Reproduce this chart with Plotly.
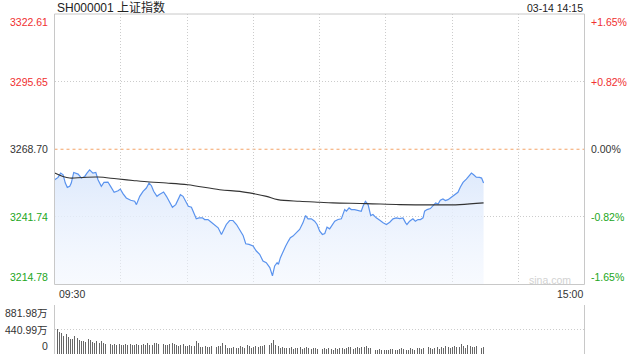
import plotly.graph_objects as go

# ---------------- data ----------------
title_text = "SH000001 上证指数"
date_text = "03-14 14:15"
time_labels = ["09:30", "15:00"]
prev_close = 3268.70
price_ticks = [3322.61, 3295.65, 3268.70, 3241.74, 3214.78]
pct_labels = ["+1.65%", "+0.82%", "0.00%", "-0.82%", "-1.65%"]
vol_ticks = [881.98, 440.99, 0]
vol_labels = ["881.98万", "440.99万", "0"]

# minute index since 09:30 (trading minutes) and index level
minutes = [0.1, 1.6, 2.8, 3.9, 4.9, 5.8, 6.9, 7.6, 8.7, 10.7, 12.2, 13.7, 14.7, 15.9, 17.4, 18.7,
           19.7, 21.2, 22.4, 24.2, 25.4, 27.0, 28.8, 29.8, 31.0, 32.5, 34.5, 36.3, 37.1, 38.6, 40.1,
           41.6, 42.8, 43.9, 44.9, 46.4, 47.3, 48.4, 49.4, 50.7, 52.2, 53.4, 54.9, 55.9, 57.0, 58.2,
           59.4, 60.6, 62.0, 63.2, 64.2, 65.4, 67.0, 68.0, 69.5, 71.0, 72.5, 74.1, 75.6, 76.6, 77.8,
           79.3, 80.8, 82.4, 83.9, 85.4, 86.6, 88.1, 89.9, 91.4, 92.9, 94.4, 95.9, 97.5, 98.7, 99.7,
           100.8, 101.4, 102.3, 103.5, 104.7, 105.9, 106.8, 108.0, 109.5, 111.0, 112.5, 113.7, 114.8,
           116.3, 117.8, 118.9, 120.1, 121.3, 122.4, 123.4, 124.6, 125.8, 126.9, 128.4, 129.9, 131.4,
           132.2, 133.4, 134.4, 135.9, 137.4, 138.9, 139.7, 140.8, 142.0, 143.2, 144.2, 145.7, 147.3,
           148.8, 150.3, 151.8, 153.3, 154.8, 156.3, 157.8, 159.0, 159.6, 160.8, 162.3, 163.4, 164.6,
           165.7, 166.9, 167.6, 168.7, 170.2, 171.4, 172.6, 173.7, 174.7, 175.9, 177.0, 178.2, 179.2,
           180.5, 181.7, 182.7, 183.8, 185.0, 186.5, 187.7, 188.8, 189.8, 191.0, 192.5, 193.4, 194.3]
prices = [3256.54, 3257.47, 3259.18, 3258.52, 3255.22, 3253.50, 3253.90, 3255.22, 3259.45, 3258.79,
          3257.20, 3257.86, 3259.18, 3260.51, 3259.18, 3259.45, 3256.54, 3253.90, 3255.48, 3255.62,
          3253.90, 3251.52, 3252.18, 3252.84, 3250.99, 3249.27, 3248.35, 3247.95, 3246.63, 3249.93,
          3251.92, 3253.24, 3255.22, 3254.16, 3251.92, 3249.93, 3250.59, 3251.25, 3251.65, 3249.93,
          3247.29, 3245.57, 3246.63, 3248.61, 3250.59, 3249.93, 3247.95, 3245.97, 3245.57, 3242.66,
          3240.95, 3241.34, 3241.34, 3240.68, 3240.68, 3239.62, 3238.70, 3237.37, 3234.73, 3236.72,
          3238.70, 3240.29, 3240.29, 3238.70, 3236.72, 3234.34, 3231.03, 3230.77, 3230.11, 3228.13,
          3226.80, 3224.16, 3223.50, 3221.52, 3218.22, 3222.18, 3223.50, 3222.84, 3225.48, 3228.13,
          3230.11, 3232.09, 3233.42, 3234.07, 3235.40, 3236.72, 3239.36, 3242.27, 3240.95, 3240.95,
          3240.02, 3238.70, 3236.06, 3234.73, 3235.13, 3237.64, 3236.98, 3238.70, 3240.02, 3240.68,
          3240.95, 3244.65, 3243.99, 3245.31, 3244.65, 3244.65, 3244.25, 3243.99, 3245.97, 3247.95,
          3246.63, 3242.27, 3242.67, 3241.34, 3240.42, 3239.36, 3238.70, 3239.62, 3240.95, 3241.34,
          3241.08, 3241.34, 3239.36, 3238.70, 3240.02, 3240.95, 3240.02, 3240.68, 3240.68, 3241.34,
          3243.99, 3244.65, 3245.04, 3246.37, 3247.29, 3246.89, 3248.35, 3248.88, 3248.22, 3248.61,
          3249.27, 3249.93, 3250.59, 3251.52, 3253.63, 3255.48, 3256.81, 3257.86, 3259.18, 3258.52,
          3257.60, 3257.47, 3257.20, 3255.22]

avg_minutes = [0.1, 3.8, 6.9, 12.9, 19.7, 28.0, 35.5, 43.1, 50.7, 60.3, 74.8, 83.9, 90.2, 96.0,
               101.1, 111.0, 120.1, 126.0, 141.2, 156.3, 171.3, 183.5, 194.3]
avg_prices = [3259.20, 3257.85, 3257.21, 3257.45, 3257.61, 3256.93, 3256.26, 3255.63, 3255.23,
              3254.56, 3252.58, 3251.90, 3250.99, 3249.92, 3248.61, 3247.94, 3247.54, 3247.30,
              3247.02, 3246.63, 3246.51, 3246.63, 3247.30]

# volume per minute (万手)
volumes = [882, 445, 400, 385, 325, 360, 300, 265, 265, 325,
           280, 250, 240, 240, 220, 265, 250, 220, 205, 235,
           190, 235, 190, 180, 175, 185, 170, 180, 165, 175,
           170, 160, 175, 165, 180, 170, 165, 175, 160, 170,
           185, 165, 200, 170, 160, 190, 205, 175, 165, 185,
           170, 160, 175, 200, 185, 165, 150, 160, 175, 150,
           140, 160, 150, 140, 230, 190, 120, 130, 140, 120,
           125, 150, 130, 120, 140, 150, 200, 160, 110, 115,
           110, 120, 100, 110, 140, 120, 100, 160, 140, 115,
           130, 150, 120, 140, 150, 155, 140, 170, 195, 250,
           170, 140, 110, 120, 115, 110, 100, 120, 90, 110,
           105, 120, 95, 110, 130, 100, 90, 110, 100, 95,
           240, 90, 100, 85, 110, 95, 80, 100, 90, 105,
           110, 85, 100, 120, 130, 95, 110, 125, 100, 130,
           135, 140, 110, 100, 90, 80, 75, 85, 70, 80,
           75, 70, 85, 90, 80, 70, 95, 100, 85, 80,
           75, 105, 90, 80, 100, 110, 95, 100, 85, 120,
           100, 90, 110, 120, 95, 130, 110, 140, 120, 115,
           130, 145, 120, 135, 180, 150, 110, 165, 140, 125,
           120, 145, 130, 115, 125]
vol_minutes = list(range(len(volumes)))

# ---------------- style ----------------
W, H = 640, 360
FONT = "Liberation Sans, Arial, Noto Sans CJK SC, sans-serif"
RED, GREEN, DARK = "#f03030", "#22a622", "#333333"
GRID = "#cccccc"
BORDER = "#c8c8c8"

xdom = [54.5 / W, 584.5 / W]
ydom_main = [1 - 284.5 / H, 1 - 14 / H]
ydom_vol = [1 - 354 / H, 1 - 305 / H]

fig = go.Figure()

fig.add_trace(go.Scatter(
    x=minutes, y=prices, mode="lines",
    line=dict(color="#5a93ee", width=1.2),
    fill="tozeroy",
    fillgradient=dict(type="vertical", start=price_ticks[-1], stop=3258,
                      colorscale=[[0, "rgba(240,245,254,0.5)"], [1, "rgba(224,235,252,1)"]]),
    xaxis="x", yaxis="y", hoverinfo="skip"))

fig.add_trace(go.Scatter(
    x=avg_minutes, y=avg_prices, mode="lines", line=dict(color="#333333", width=1.1, shape="spline"),
    xaxis="x", yaxis="y", hoverinfo="skip"))

fig.add_trace(go.Bar(
    x=vol_minutes, y=volumes, width=0.45, offset=0, marker=dict(color="#666666", line=dict(width=0)),
    xaxis="x2", yaxis="y2", hoverinfo="skip"))

fig.update_layout(
    width=W, height=H, margin=dict(l=0, r=0, t=0, b=0),
    paper_bgcolor="white", plot_bgcolor="white", showlegend=False,
    font=dict(family=FONT, size=11, color=DARK),
    xaxis=dict(domain=xdom, range=[0, 240], anchor="y", showticklabels=False, ticks="",
               showgrid=True, gridcolor=GRID, griddash="1px,2px", gridwidth=1,
               tick0=0, dtick=30, zeroline=False, showline=False, fixedrange=True),
    yaxis=dict(domain=ydom_main, range=[price_ticks[-1], price_ticks[0]], anchor="x",
               showticklabels=False, ticks="", tickmode="array",
               tickvals=[price_ticks[1], price_ticks[3]],
               showgrid=True, gridcolor=GRID, griddash="1px,2px", zeroline=False, showline=False),
    xaxis2=dict(domain=xdom, range=[0, 240], anchor="y2", matches="x", showticklabels=False,
                ticks="", showgrid=False, zeroline=False, showline=False),
    yaxis2=dict(domain=ydom_vol, range=[0, vol_ticks[0]], anchor="x2", showticklabels=False,
                ticks="", tickmode="array", tickvals=vol_ticks, showgrid=True, gridcolor=GRID,
                griddash="1px,2px", zeroline=False, showline=False),
    bargap=0,
)

shapes = [
    # main border
    dict(type="rect", xref="x domain", yref="y domain", x0=0, x1=1, y0=0, y1=1,
         line=dict(color=BORDER, width=1), layer="above"),
    # previous close dashed line
    dict(type="line", xref="x domain", yref="y", x0=0, x1=1, y0=prev_close, y1=prev_close,
         line=dict(color="#f4a266", width=1, dash="3px,3px"), layer="below"),
    # volume panel side borders
    dict(type="line", xref="x2 domain", yref="y2 domain", x0=0, x1=0, y0=0, y1=1,
         line=dict(color=BORDER, width=1)),
    dict(type="line", xref="x2 domain", yref="y2 domain", x0=1, x1=1, y0=0, y1=1,
         line=dict(color=BORDER, width=1)),
]
fig.update_layout(shapes=shapes)

ann = []
def col(v):
    if v > prev_close:
        return RED
    if v < prev_close:
        return GREEN
    return DARK

n = len(price_ticks)
for i, (v, p) in enumerate(zip(price_ticks, pct_labels)):
    if i == 0:
        ya, ys = "top", 0
    elif i == n - 1:
        ya, ys = "bottom", 0
    else:
        ya, ys = "middle", 0
    ann.append(dict(x=50 / W, xref="paper", y=v, yref="y", text=f"{v:.2f}", showarrow=False,
                    xanchor="right", yanchor=ya, yshift=ys,
                    font=dict(size=10.5, color=col(v), family=FONT)))
    ann.append(dict(x=589 / W, xref="paper", y=v, yref="y", text=p, showarrow=False,
                    xanchor="left", yanchor=ya, yshift=ys,
                    font=dict(size=10.5, color=col(v), family=FONT)))

for i, (v, t) in enumerate(zip(vol_ticks, vol_labels)):
    ya = "top" if i == 0 else ("bottom" if i == len(vol_ticks) - 1 else "middle")
    ann.append(dict(x=50 / W, xref="paper", y=v, yref="y2", text=t, showarrow=False,
                    xanchor="right", yanchor=ya, font=dict(size=10.5, color=DARK, family=FONT)))

ann.append(dict(x=55 / W, xref="paper", y=1 - 7.5 / H, yref="paper", text=title_text,
                showarrow=False, xanchor="left", yanchor="middle",
                font=dict(size=12, color="#222222", family=FONT)))
ann.append(dict(x=584.5 / W, xref="paper", y=1 - 7.5 / H, yref="paper", text=date_text,
                showarrow=False, xanchor="right", yanchor="middle",
                font=dict(size=10.5, color="#222222", family=FONT)))
ann.append(dict(x=0, xref="x", y=1 - 293.5 / H, yref="paper", text=time_labels[0],
                showarrow=False, xanchor="left", yanchor="middle", xshift=2,
                font=dict(size=10.5, color=DARK, family=FONT)))
ann.append(dict(x=240, xref="x", y=1 - 293.5 / H, yref="paper", text=time_labels[1],
                showarrow=False, xanchor="right", yanchor="middle",
                font=dict(size=10.5, color=DARK, family=FONT)))
ann.append(dict(x=573 / W, xref="paper", y=1 - 279.5 / H, yref="paper", text="sina.com",
                showarrow=False, xanchor="right", yanchor="middle",
                font=dict(size=10.5, color="#d2d2d2", family=FONT)))
fig.update_layout(annotations=ann)

fig.write_html("out.html", config={"displayModeBar": False, "staticPlot": True},
               post_script="document.body.style.margin='0';document.body.style.overflow='hidden';")
